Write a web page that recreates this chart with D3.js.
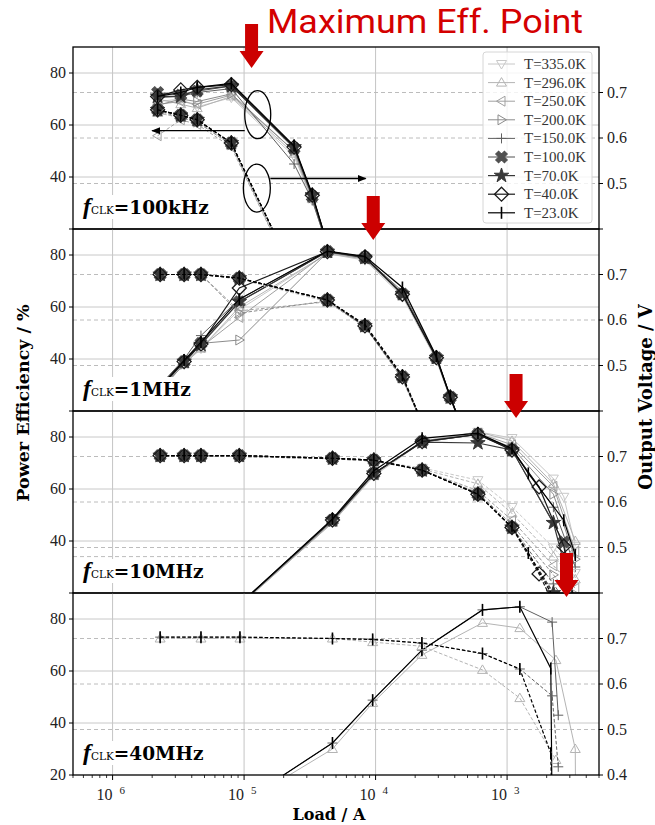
<!DOCTYPE html>
<meta charset="utf-8">
<script src="https://d3js.org/d3.v7.min.js"></script>
<body style="margin:0;background:white">
<div id="chart"></div>
<script>
    // temperatures, lightest to darkest
    var temps = ["T=335.0K", "T=296.0K", "T=250.0K", "T=200.0K", "T=150.0K", "T=100.0K", "T=70.0K", "T=40.0K", "T=23.0K"];
    var colours = ["#c8c8c8", "#b4b4b4", "#a0a0a0", "#8c8c8c", "#606060", "#505050", "#383838", "#1a1a1a", "#000000"];

    // fCLK = 100kHz
    var loads100k = [2.2e-6, 3.3e-6, 4.4e-6, 8.0e-6, 2.4e-5, 3.3e-5, 4.8e-5];
    var eff100k = [
        [69, 70, 67, 70.5, 48, 31, 6],
        [70, 68, 66.5, 71, 49, 31.5, 6],
        [68, 69, 68, 71.5, 50, 32, 6],
        [67.5, 70, 69, 72, 50, 32, 6],
        [70.5, 71, 72.5, 74, 45, 31, 6],
        [72.5, 71.5, 73, 75, 51, 32.5, 6],
        [71, 71, 73.5, 75, 51.5, 33, 6],
        [71, 73.5, 74.5, 75.5, 51.5, 33, 6],
        [71, 72.5, 74.5, 76, 52, 33.5, 6]
    ];
    var volt100k = [
        [0.655, 0.645, 0.635, 0.585, 0.29, 0.2, 0.1],
        [0.655, 0.645, 0.635, 0.585, 0.29, 0.2, 0.1],
        [0.605, 0.64, 0.63, 0.58, 0.29, 0.2, 0.1],
        [0.66, 0.645, 0.635, 0.585, 0.3, 0.2, 0.1],
        [0.662, 0.65, 0.64, 0.589, 0.3, 0.2, 0.1],
        [0.662, 0.65, 0.64, 0.589, 0.3, 0.2, 0.1],
        [0.662, 0.65, 0.64, 0.589, 0.3, 0.2, 0.1],
        [0.662, 0.65, 0.64, 0.589, 0.3, 0.2, 0.1],
        [0.662, 0.65, 0.64, 0.589, 0.3, 0.2, 0.1]
    ];

    // fCLK = 1MHz
    var loads1M = [2.3e-6, 3.5e-6, 4.7e-6, 9.2e-6, 4.3e-5, 8.3e-5, 1.6e-4, 2.9e-4, 3.7e-4, 5.0e-4];
    var eff1M = [
        [28, 38, 44, 59, 80.5, 78, 64, 39.5, 24.5, 8],
        [28, 38, 44, 60, 80.5, 78.5, 64.5, 40, 25, 8],
        [28.5, 38.5, 44.5, 56, 81, 78.5, 65, 40, 25, 8],
        [28, 38, 46, 47.3, 81, 79, 65, 40.5, 25, 8],
        [30, 40, 49, 63, 81.5, 79, 66, 41, 25.5, 8],
        [29, 39, 46, 62, 81.3, 79, 65, 40.5, 25.3, 8],
        [29, 39, 45.5, 62, 81.3, 79, 65, 40.5, 25.3, 8],
        [29, 39, 45.8, 67.3, 81.3, 79.3, 64.9, 40.5, 25.3, 8],
        [29.5, 39.5, 46.5, 63, 81.5, 79.5, 67.5, 41, 25.5, 8]
    ];
    var volt1M = [
        [0.70, 0.70, 0.70, 0.69, 0.64, 0.585, 0.47, 0.3, 0.22, 0.15],
        [0.70, 0.70, 0.70, 0.69, 0.642, 0.585, 0.472, 0.3, 0.22, 0.15],
        [0.70, 0.70, 0.70, 0.62, 0.64, 0.585, 0.47, 0.3, 0.22, 0.15],
        [0.70, 0.70, 0.70, 0.615, 0.642, 0.586, 0.473, 0.3, 0.22, 0.15],
        [0.70, 0.70, 0.70, 0.692, 0.644, 0.587, 0.475, 0.3, 0.22, 0.15],
        [0.70, 0.70, 0.70, 0.692, 0.644, 0.587, 0.475, 0.3, 0.22, 0.15],
        [0.70, 0.70, 0.70, 0.692, 0.644, 0.587, 0.475, 0.3, 0.22, 0.15],
        [0.70, 0.70, 0.70, 0.692, 0.644, 0.587, 0.475, 0.3, 0.22, 0.15],
        [0.70, 0.70, 0.70, 0.692, 0.644, 0.59, 0.478, 0.3, 0.22, 0.15]
    ];

    // fCLK = 10MHz
    var loads10M = [2.3e-6, 3.5e-6, 4.7e-6, 9.2e-6, 4.7e-5, 9.7e-5, 2.26e-4, 6.0e-4, 1.09e-3, 1.45e-3, 1.75e-3, 2.25e-3, 2.7e-3, 3.3e-3];
    var eff10M = [
        [4, 6, 8, 15, 47, 65, 78, 82, 79.6, null, null, 64, 57, 38],
        [4, 6, 8, 15, 47, 65.5, 78, 82, 78.5, null, null, 62, null, 40],
        [4, 6, 8, 15.2, 47.5, 65.5, 78.5, 81.5, 77, null, null, 61, null, 36],
        [4, 6, 8, 15.4, 47.5, 66, 78, 81, 76, null, null, 58, null, 33],
        [4, 6, 8, 15.6, 48, 66, 78, 81, 75.5, null, null, 53, null, 30],
        [4, 6, 8, 15.6, 48, 66, 78.2, 81, 75, null, null, null, 39.6, 15],
        [4, 6, 8, 15.6, 48.1, 66, 78, 77.7, 75, null, null, 47, null, 15],
        [4, 6, 8, 15.6, 48.1, 66, 78.2, 81, 75, null, 60.8, null, 38, 15],
        [4, 6, 8, 15.6, 48.5, 67, 79.5, 81.5, 75.5, 66, null, null, 48, 34.6]
    ];
    var volt10M = [
        [0.70, 0.70, 0.70, 0.70, 0.695, 0.69, 0.675, 0.648, 0.589, null, null, 0.5, null, 0.444],
        [0.70, 0.70, 0.70, 0.70, 0.695, 0.69, 0.672, 0.64, 0.575, null, null, 0.48, null, 0.43],
        [0.70, 0.70, 0.70, 0.70, 0.695, 0.69, 0.67, 0.625, 0.56, null, null, 0.46, null, 0.41],
        [0.70, 0.70, 0.70, 0.70, 0.695, 0.69, 0.67, 0.62, 0.55, null, null, 0.44, null, 0.38],
        [0.702, 0.702, 0.702, 0.702, 0.696, 0.692, 0.67, 0.617, 0.545, null, null, 0.42, null, 0.35],
        [0.702, 0.702, 0.702, 0.702, 0.696, 0.692, 0.67, 0.617, 0.544, null, null, null, 0.36, 0.3],
        [0.702, 0.702, 0.702, 0.702, 0.696, 0.692, 0.67, 0.617, 0.544, null, null, 0.4, null, 0.3],
        [0.702, 0.702, 0.702, 0.702, 0.696, 0.692, 0.67, 0.617, 0.544, null, 0.442, null, 0.33, 0.25],
        [0.702, 0.702, 0.702, 0.702, 0.696, 0.692, 0.67, 0.617, 0.544, 0.488, null, null, 0.35, 0.28]
    ];
    var extraVolt10M = 0.48;

    // fCLK = 40MHz (only three temperatures measured)
    var loads40M = [2.3e-6, 4.7e-6, 9.3e-6, 4.7e-5, 9.5e-5, 2.25e-4, 6.5e-4, 1.25e-3, 2.15e-3, 2.2e-3, 2.35e-3, 2.45e-3, 3.3e-3, 3.32e-3];
    var eff40M = [
        null,
        [2, 4, 8.5, 30, 47.7, 66.2, 78.5, 76.5, null, null, 64.2, null, 30, 5],
        null, null,
        [2.2, 4.5, 9, 32.3, 48.8, 68, 83.5, 84.7, null, 78.8, null, 43, null, null],
        null, null, null,
        [2.2, 4.5, 9, 32.3, 48.8, 68, 83.5, 84.7, 61, 5, null, null, null, null]
    ];
    var volt40M = [
        null,
        [0.70, 0.70, 0.70, 0.70, 0.692, 0.683, 0.631, 0.569, null, null, 0.433, null, null, null],
        null, null,
        [0.703, 0.703, 0.703, 0.70, 0.698, 0.69, 0.667, 0.633, null, 0.574, null, 0.418, null, null],
        null, null, null,
        [0.703, 0.703, 0.703, 0.70, 0.698, 0.69, 0.667, 0.633, 0.448, 0.3, null, null, null, null]
    ];

    var panelFreqs = ["100kHz", "1MHz", "10MHz", "40MHz"];
    var maxEffLoads = [1.14e-5, 9.6e-5, 1.17e-3, 2.83e-3];
    var effTicks = [20, 40, 60, 80];
    var voltTicks = [0.4, 0.5, 0.6, 0.7];
    var decades = [1e-6, 1e-5, 1e-4, 1e-3];
    var decadeExp = ["6", "5", "4", "3"];

    var panels = [
        {freq: panelFreqs[0], loads: loads100k, eff: eff100k, volt: volt100k},
        {freq: panelFreqs[1], loads: loads1M, eff: eff1M, volt: volt1M},
        {freq: panelFreqs[2], loads: loads10M, eff: eff10M, volt: volt10M},
        {freq: panelFreqs[3], loads: loads40M, eff: eff40M, volt: volt40M}
    ];

    var W = 655, H = 825;
    var left = 73, right = 599, top0 = 47, panelH = 182;
    var serif = "'Liberation Serif', 'DejaVu Serif', serif";
    var boldSerif = "'DejaVu Serif', serif";

    var svg = d3.select("#chart")
        .append("svg")
        .attr("width", W)
        .attr("height", H)
        .style("background", "white");

    var x = d3.scaleLog().domain([5e-7, 5e-3]).range([left, right]);

    function markerPath(j) {
        switch (j) {
            case 0: return "M-5,-3.5L5,-3.5L0,5Z";
            case 1: return "M0,-5L5,3.5L-5,3.5Z";
            case 2: return "M-5,0L3.5,-5L3.5,5Z";
            case 3: return "M5,0L-3.5,-5L-3.5,5Z";
            case 4: return "M-5,0H5M0,-5V5";
            case 5: return d3.symbol(d3.symbolCross, 85)();
            case 6: return d3.symbol(d3.symbolStar, 65)();
            case 7: return "M0,-7L7,0L0,7L-7,0Z";
            case 8: return "M0,-6V6";
        }
    }
    function markerFill(j) {
        return (j === 5 || j === 6) ? colours[j] : "none";
    }
    function markerRotate(j) {
        return j === 5 ? " rotate(45)" : "";
    }

    var defs = svg.append("defs");

    panels.forEach(function (p, i) {
        var top = top0 + i * panelH, bottom = top + panelH;
        var yE = d3.scaleLinear().domain([20, 90]).range([bottom, top]);
        var yV = d3.scaleLinear().domain([0.4, 0.8]).range([bottom, top]);

        defs.append("clipPath").attr("id", "clip" + i)
            .append("rect").attr("x", left).attr("y", top)
            .attr("width", right - left).attr("height", panelH);

        var g = svg.append("g");

        // grid
        g.selectAll(null).data(decades).enter().append("line")
            .attr("x1", function (d) { return x(d); })
            .attr("x2", function (d) { return x(d); })
            .attr("y1", top).attr("y2", bottom)
            .style("stroke", "#c4c4c4").style("stroke-width", 1);
        g.selectAll(null).data(effTicks.slice(1)).enter().append("line")
            .attr("x1", left).attr("x2", right)
            .attr("y1", function (d) { return yE(d); })
            .attr("y2", function (d) { return yE(d); })
            .style("stroke", "#c8c8c8").style("stroke-width", 1);
        var dashV = voltTicks.slice(1);
        if (i === 2) dashV = dashV.concat([extraVolt10M]);
        g.selectAll(null).data(dashV).enter().append("line")
            .attr("x1", left).attr("x2", right)
            .attr("y1", function (d) { return yV(d); })
            .attr("y2", function (d) { return yV(d); })
            .style("stroke", "#bcbcbc").style("stroke-width", 1)
            .style("stroke-dasharray", "4,3");

        var plot = g.append("g").attr("clip-path", "url(#clip" + i + ")");

        function drawSeries(values, yScale, dashed) {
            values.forEach(function (vals, j) {
                if (!vals) return;
                var pts = p.loads.map(function (l, k) { return [l, vals[k]]; })
                    .filter(function (d) { return d[1] !== null; });
                plot.append("path")
                    .datum(pts)
                    .attr("d", d3.line()
                        .x(function (d) { return x(d[0]); })
                        .y(function (d) { return yScale(d[1]); }))
                    .style("fill", "none")
                    .style("stroke", colours[j])
                    .style("stroke-width", j >= 6 ? 1.2 : 1)
                    .style("stroke-dasharray", dashed ? "3.5,2" : null);
                plot.selectAll(null).data(pts).enter().append("path")
                    .attr("d", markerPath(j))
                    .attr("transform", function (d) {
                        return "translate(" + x(d[0]) + "," + yScale(d[1]) + ")" + markerRotate(j);
                    })
                    .style("fill", markerFill(j))
                    .style("stroke", colours[j])
                    .style("stroke-width", j === 8 ? 1.6 : (j === 7 ? 1.3 : 1));
            });
        }
        drawSeries(p.eff, yE, false);
        drawSeries(p.volt, yV, true);

        // left axis
        g.selectAll(null).data(effTicks).enter().append("line")
            .attr("x1", left - 4).attr("x2", left)
            .attr("y1", function (d) { return yE(d); })
            .attr("y2", function (d) { return yE(d); })
            .style("stroke", "black");
        g.selectAll(null).data(i === 3 ? effTicks : effTicks.slice(1)).enter().append("text")
            .attr("x", left - 7)
            .attr("y", function (d) { return yE(d) + 5; })
            .attr("text-anchor", "end")
            .style("font-family", serif).style("font-size", "16px").style("fill", "#222")
            .text(function (d) { return d; });

        // right axis
        g.selectAll(null).data(voltTicks).enter().append("line")
            .attr("x1", right).attr("x2", right + 4)
            .attr("y1", function (d) { return yV(d); })
            .attr("y2", function (d) { return yV(d); })
            .style("stroke", "black");
        g.selectAll(null).data(i === 3 ? voltTicks : voltTicks.slice(1)).enter().append("text")
            .attr("x", right + 8)
            .attr("y", function (d) { return yV(d) + 5; })
            .style("font-family", serif).style("font-size", "16px").style("fill", "#222")
            .text(function (d) { return d3.format(".1f")(d); });

        // frame
        g.append("rect")
            .attr("x", left).attr("y", top)
            .attr("width", right - left).attr("height", panelH)
            .style("fill", "none").style("stroke", "black").style("stroke-width", 1.3);

        // panel label with white box
        var lab = g.append("text")
            .attr("x", 83).attr("y", top + 167)
            .style("fill", "black");
        lab.append("tspan").text("f")
            .style("font-family", serif).style("font-style", "italic").style("font-weight", "bold")
            .style("font-size", "24px");
        lab.append("tspan").text("CLK")
            .style("font-family", boldSerif).style("font-size", "10.5px");
        lab.append("tspan").text("=" + p.freq)
            .style("font-family", boldSerif).style("font-weight", "bold").style("font-size", "18.5px");
        var bb = lab.node().getBBox();
        g.insert("rect", function () { return lab.node(); })
            .attr("x", bb.x - 3).attr("y", bb.y + 2)
            .attr("width", bb.width + 6).attr("height", bb.height - 2)
            .style("fill", "white");

        // bottom axis on last panel
        if (i === 3) {
            var minors = [];
            [1e-7, 1e-6, 1e-5, 1e-4, 1e-3].forEach(function (d) {
                for (var k = 2; k <= 9; k++) {
                    var v = k * d;
                    if (v >= 5e-7 && v <= 5e-3) minors.push(v);
                }
            });
            g.selectAll(null).data(minors).enter().append("line")
                .attr("x1", function (d) { return x(d); })
                .attr("x2", function (d) { return x(d); })
                .attr("y1", bottom).attr("y2", bottom + 3)
                .style("stroke", "black").style("stroke-width", 0.8);
            g.selectAll(null).data(decades).enter().append("line")
                .attr("x1", function (d) { return x(d); })
                .attr("x2", function (d) { return x(d); })
                .attr("y1", bottom).attr("y2", bottom + 5)
                .style("stroke", "black");
            var tl = g.selectAll(null).data(decades).enter().append("text")
                .attr("x", function (d) { return x(d) - 16; })
                .attr("y", bottom + 25)
                .style("font-family", serif).style("font-size", "16px").style("fill", "#222");
            tl.append("tspan").text("10");
            tl.append("tspan")
                .attr("dx", 7).attr("dy", -6)
                .style("font-size", "11px")
                .text(function (d, k) { return decadeExp[k]; });
        }
    });

    // axis titles
    svg.append("text")
        .attr("transform", "translate(29,403) rotate(-90)")
        .attr("text-anchor", "middle")
        .style("font-family", boldSerif).style("font-weight", "bold").style("font-size", "17.5px")
        .text("Power Efficiency / %");
    svg.append("text")
        .attr("transform", "translate(652,397) rotate(-90)")
        .attr("text-anchor", "middle")
        .style("font-family", boldSerif).style("font-weight", "bold").style("font-size", "18px")
        .text("Output Voltage / V");
    svg.append("text")
        .attr("x", 329).attr("y", 820)
        .attr("text-anchor", "middle")
        .style("font-family", boldSerif).style("font-weight", "bold").style("font-size", "16px")
        .text("Load / A");

    // legend
    var lg = svg.append("g");
    lg.append("rect")
        .attr("x", 483).attr("y", 52).attr("width", 109).attr("height", 171).attr("rx", 3)
        .style("fill", "white").style("fill-opacity", 0.8)
        .style("stroke", "#d6d6d6");
    temps.forEach(function (t, j) {
        var yy = 64 + j * 18.6;
        lg.append("line").attr("x1", 488).attr("x2", 515).attr("y1", yy).attr("y2", yy)
            .style("stroke", colours[j]).style("stroke-width", j >= 6 ? 1.2 : 1);
        lg.append("path").attr("d", markerPath(j))
            .attr("transform", "translate(501.5," + yy + ")" + markerRotate(j))
            .style("fill", markerFill(j)).style("stroke", colours[j])
            .style("stroke-width", j === 8 ? 1.6 : (j === 7 ? 1.3 : 1));
        lg.append("text").attr("x", 524).attr("y", yy + 5)
            .style("font-family", serif).style("font-size", "15px").style("fill", "#333")
            .text(t);
    });

    // annotations in first panel: ellipses and arrows towards the axes
    var yE0 = d3.scaleLinear().domain([20, 90]).range([top0 + panelH, top0]);
    var yV0 = d3.scaleLinear().domain([0.4, 0.8]).range([top0 + panelH, top0]);
    var ann = svg.append("g");
    defs.append("marker").attr("id", "ah").attr("viewBox", "0 0 10 10")
        .attr("refX", 9).attr("refY", 5).attr("markerWidth", 9).attr("markerHeight", 9)
        .attr("markerUnits", "userSpaceOnUse").attr("orient", "auto")
        .append("path").attr("d", "M0,1L10,5L0,9Z").style("fill", "black");
    var e1x = x(1.27e-5), e1y = yE0(64);
    var e2x = x(1.25e-5), e2y = yV0(0.49);
    ann.append("ellipse").attr("cx", e1x).attr("cy", e1y).attr("rx", 13).attr("ry", 24)
        .style("fill", "none").style("stroke", "black").style("stroke-width", 1.3);
    ann.append("ellipse").attr("cx", e2x).attr("cy", e2y).attr("rx", 13.5).attr("ry", 24)
        .style("fill", "none").style("stroke", "black").style("stroke-width", 1.3);
    ann.append("line").attr("x1", e1x - 13).attr("x2", x(2.0e-6))
        .attr("y1", yE0(57.8)).attr("y2", yE0(57.8))
        .style("stroke", "black").style("stroke-width", 1.3).attr("marker-end", "url(#ah)");
    ann.append("line").attr("x1", e2x + 13.5).attr("x2", x(8.4e-5))
        .attr("y1", yV0(0.511)).attr("y2", yV0(0.511))
        .style("stroke", "black").style("stroke-width", 1.3).attr("marker-end", "url(#ah)");

    // red arrows marking maximum efficiency
    var tipOffsets = [21, 11, 7, 4];
    function blockArrow(cx, tipY) {
        var len = 44, head = 17, sw = 6.5, hw = 12;
        var t = tipY - len, hb = tipY - head;
        return "M" + (cx - sw) + "," + t + "L" + (cx + sw) + "," + t + "L" + (cx + sw) + "," + hb +
            "L" + (cx + hw) + "," + hb + "L" + cx + "," + tipY + "L" + (cx - hw) + "," + hb +
            "L" + (cx - sw) + "," + hb + "Z";
    }
    svg.selectAll(null).data(maxEffLoads).enter().append("path")
        .attr("d", function (d, i) { return blockArrow(x(d), top0 + i * panelH + tipOffsets[i]); })
        .style("fill", "#cc0000");

    svg.append("text")
        .attr("x", 267).attr("y", 33)
        .attr("textLength", 316)
        .attr("lengthAdjust", "spacingAndGlyphs")
        .style("font-family", "Roboto, 'Noto Sans', sans-serif")
        .style("font-size", "34px")
        .style("fill", "#d40000")
        .text("Maximum Eff. Point");
</script>
</body>
